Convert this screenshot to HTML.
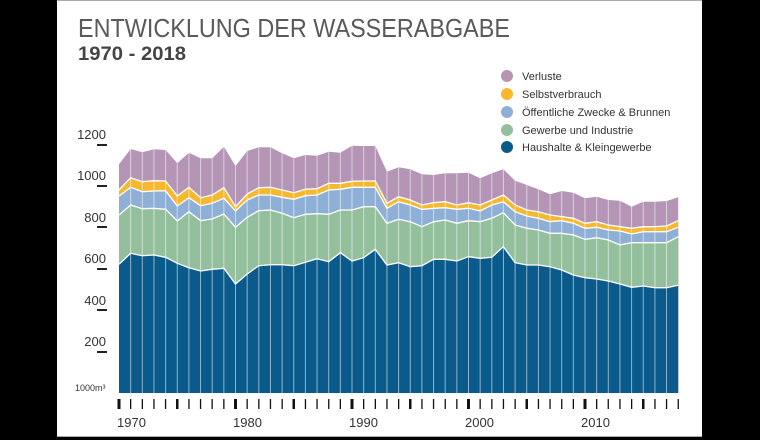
<!DOCTYPE html>
<html><head><meta charset="utf-8"><style>
html,body{margin:0;padding:0;background:#000;}
body{width:760px;height:440px;overflow:hidden;position:relative;font-family:"Liberation Sans",sans-serif;}
#panel{position:absolute;left:57px;top:0;width:645px;height:437px;background:#fff;border-top:1px solid #aaa;border-bottom:1px solid #aaa;box-sizing:border-box;}
svg{position:absolute;left:0;top:0;}
</style></head><body>
<div id="panel"></div>
<svg width="760" height="440" id="s" xmlns="http://www.w3.org/2000/svg">
<text x="78" y="37" font-size="26" fill="#5a5a5a" textLength="432" lengthAdjust="spacingAndGlyphs">ENTWICKLUNG DER WASSERABGABE</text>
<text x="78" y="60" font-size="19" font-weight="bold" fill="#444" textLength="108" lengthAdjust="spacingAndGlyphs">1970 - 2018</text>
<g font-size="11" fill="#333">
<circle cx="507" cy="76" r="6" fill="#b595b5"/><text x="522" y="80">Verluste</text>
<circle cx="507" cy="94" r="6" fill="#f5b82e"/><text x="522" y="98">Selbstverbrauch</text>
<circle cx="507" cy="112" r="6" fill="#8fb0d6"/><text x="522" y="116">Öffentliche Zwecke &amp; Brunnen</text>
<circle cx="507" cy="130" r="6" fill="#94bf9c"/><text x="522" y="134">Gewerbe und Industrie</text>
<circle cx="507" cy="147" r="6" fill="#0a5a8c"/><text x="522" y="151">Haushalte &amp; Kleingewerbe</text>
</g>
<g font-size="13" fill="#333" text-anchor="end">
<text x="106" y="139">1200</text><text x="106" y="180">1000</text><text x="106" y="222">800</text>
<text x="106" y="263">600</text><text x="106" y="305">400</text><text x="106" y="346">200</text>
</g>
<g fill="#222"><rect x="97" y="144" width="10" height="2"/><rect x="97" y="185" width="10" height="2"/><rect x="97" y="226" width="10" height="2"/><rect x="97" y="268" width="10" height="2"/><rect x="97" y="309" width="10" height="2"/><rect x="97" y="351" width="10" height="2"/></g>
<text x="75" y="391" font-size="9" fill="#333">1000m³</text>
<g id="areas"></g>
<g id="ticks" fill="#111"></g>
<g font-size="13" fill="#333">
<text x="117" y="427">1970</text><text x="233" y="427">1980</text><text x="349" y="427">1990</text><text x="465" y="427">2000</text><text x="581" y="427">2010</text>
</g>
</svg>
<script>
var z1={b:[463,430,437,435,442,460,473,483,478,475,522,492,467,464,464,467,457,446,455,428,453,443,418],
g:[315,285,296,295,298,333,305,332,327,312,352,322,302,300,310,323,313,311,313,300,300,290,290],
o:[258,232,245,243,242,288,263,287,280,265,303,270,255,255,262,268,257,255,240,238,232,232,232],
y:[240,203,215,212,213,258,232,263,255,233,290,252,233,232,240,248,238,236,220,220,214,213,213],
p:[163,117,127,118,120,160,128,145,145,110,168,123,112,112,130,145,135,137,125,128,107,108,108]};
var z2={b:[405,398,410,407,388,388,393,380,385,382,350,398,405,405,410,420,435,443,447,453,462,472,468,473,473,466],
g:[280,268,275,290,275,270,280,272,275,265,248,285,295,300,310,310,315,328,323,330,345,338,338,338,338,320],
o:[235,215,225,238,235,233,238,235,243,225,215,245,258,265,275,272,280,295,292,300,303,312,305,305,305,292],
y:[220,200,210,225,218,215,225,218,225,210,195,225,240,245,255,260,265,280,275,285,290,295,290,290,288,272],
p:[125,112,118,133,135,130,130,128,145,130,118,152,165,178,193,183,188,205,200,210,212,230,215,215,213,202]};
function arr(k){var a=[];z1[k].forEach(function(v){a.push(v/3+110)});z2[k].forEach(function(v){a.push(v/3+130)});return a;}
var X=function(i){return 119+11.65*i;},base=393;
var layers=[['p','#b595b5'],['y','#f5b82e'],['o','#8fb0d6'],['g','#94bf9c'],['b','#0a5a8c']];
var G=document.getElementById('areas'),h='';
layers.forEach(function(l){var a=arr(l[0]);var d='M'+X(0)+','+base;a.forEach(function(v,i){d+=' L'+X(i).toFixed(1)+','+v.toFixed(1)});d+=' L'+X(48)+','+base+' Z';h+='<path d="'+d+'" fill="'+l[1]+'"/>';});
['y','o','g','b'].forEach(function(k){var a=arr(k);var d='';a.forEach(function(v,i){d+=(i?' L':'M')+X(i).toFixed(1)+','+v.toFixed(1)});h+='<path d="'+d+'" fill="none" stroke="#fff" stroke-width="1.3"/>';});
var pa=arr('p');
for(var i=1;i<48;i++){h+='<line x1="'+X(i)+'" x2="'+X(i)+'" y1="'+pa[i]+'" y2="'+base+'" stroke="#fff" stroke-opacity="0.55" stroke-width="1"/>';}
G.innerHTML=h;
var T='';for(var i=0;i<49;i++){var yr=1970+i,w=(yr%10==0)?3:(yr%5==0?2.5:1.3);T+='<rect x="'+(X(i)-w/2).toFixed(1)+'" y="399" width="'+w+'" height="10"/>';}
document.getElementById('ticks').innerHTML=T;
</script>
</body></html>
